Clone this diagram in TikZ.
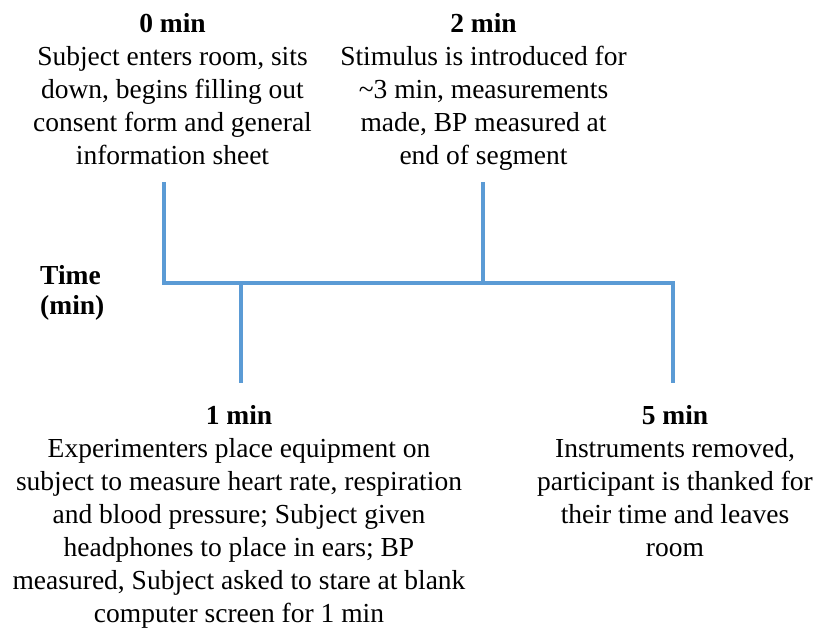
\documentclass[tikz,border=0pt]{standalone}
\usepackage{fontspec}
\setmainfont{Liberation Serif}
\definecolor{tl}{HTML}{5B9BD5}
\begin{document}
\begin{tikzpicture}[x=1pt,y=-1pt,
  txt/.style={align=center,inner sep=0pt,font=\fontsize{27.5}{33}\selectfont,anchor=base},
  tline/.style={draw=tl,line width=4pt}]
\useasboundingbox (0,0) rectangle (819,629);
\node[txt] (t0) at (172.5,164) {\textbf{0 min}\\Subject enters room, sits\\down, begins filling out\\consent form and general\\information sheet};
\node[txt] (t2) at (483.5,164) {\textbf{2 min}\\Stimulus is introduced for\\\textasciitilde3 min, measurements\\made, BP measured at\\end of segment};
\node[txt,align=left,anchor=base west,font=\fontsize{27.5}{30}\selectfont] (tm) at (40,314) {\textbf{Time}\\\textbf{(min)}};
\node[txt] (t1) at (239,622) {\textbf{1 min}\\Experimenters place equipment on\\subject to measure heart rate, respiration\\and blood pressure; Subject given\\headphones to place in ears; BP\\measured, Subject asked to stare at blank\\computer screen for 1 min};
\node[txt] (t5) at (675,556) {\textbf{5 min}\\Instruments removed,\\participant is thanked for\\their time and leaves\\room};
\coordinate (a0) at (164,182);
\coordinate (h0) at (164,283);
\coordinate (a2) at (483,182);
\coordinate (h2) at (483,283);
\coordinate (h1) at (241,283);
\coordinate (b1) at (241,383);
\coordinate (h5) at (673,283);
\coordinate (b5) at (673,383);
\draw[tline] (a0) -- (h0) -- (h5) -- (b5);
\draw[tline] (a2) -- (h2);
\draw[tline] (h1) -- (b1);
\end{tikzpicture}
\end{document}
